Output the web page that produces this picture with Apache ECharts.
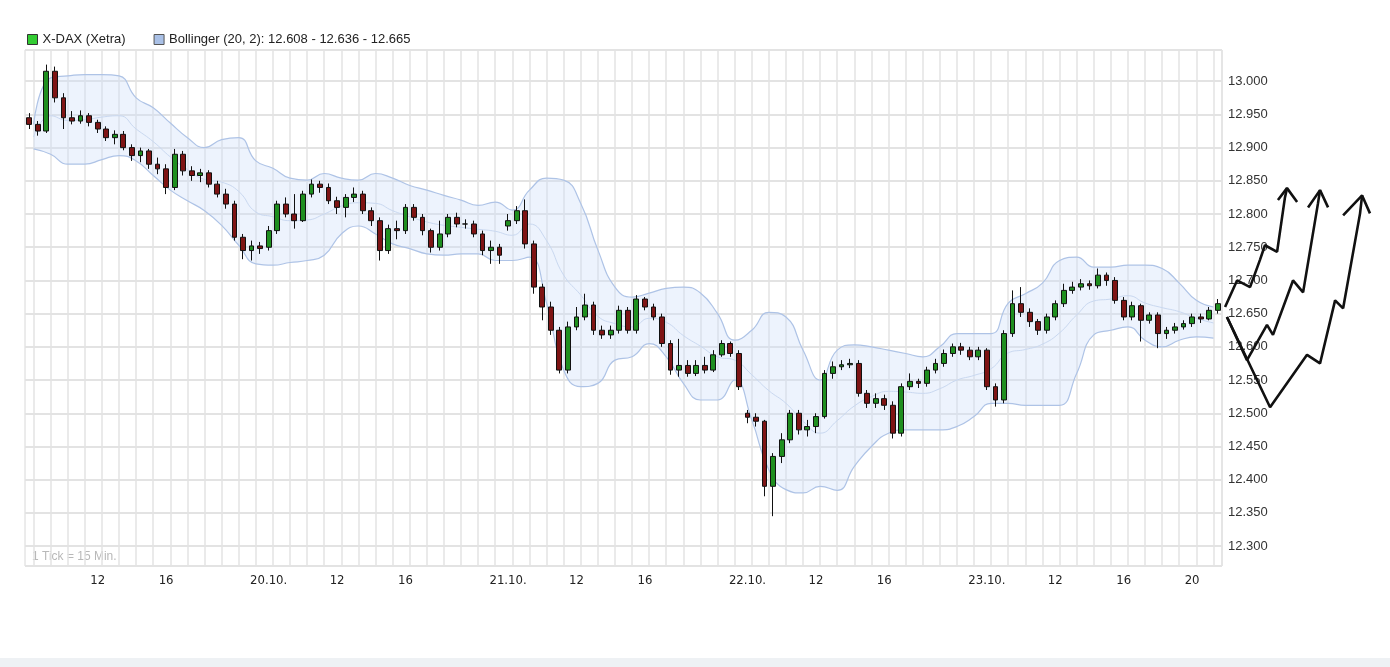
<!DOCTYPE html>
<html>
<head>
<meta charset="utf-8">
<script src="https://cdn.jsdelivr.net/npm/echarts@6/dist/echarts.min.js"></script>
<style>
html,body{margin:0;padding:0;background:#fff;}
#chart{width:1390px;height:667px;}
</style>
</head>
<body>
<div id="chart"></div>
<script>
// 30-min candles [open, close, low, high], one array per trading day (08:00 - 22:00)
let day1 = [
 [12.945,12.935,12.928,12.952],[12.935,12.925,12.918,12.940],[12.925,13.015,12.922,13.025],[13.015,12.975,12.968,13.022],
 [12.975,12.945,12.928,12.982],[12.945,12.940,12.935,12.955],[12.940,12.948,12.936,12.956],[12.948,12.938,12.932,12.952],
 [12.938,12.928,12.922,12.942],[12.928,12.915,12.910,12.932],[12.915,12.920,12.905,12.926],[12.920,12.900,12.896,12.925],
 [12.900,12.888,12.880,12.905],[12.888,12.895,12.878,12.900],[12.895,12.875,12.868,12.898],[12.875,12.868,12.860,12.885],
 [12.868,12.840,12.830,12.875],[12.840,12.890,12.836,12.898],[12.890,12.865,12.858,12.895],[12.865,12.858,12.850,12.872],
 [12.858,12.862,12.848,12.868],[12.862,12.845,12.840,12.866],[12.845,12.830,12.825,12.850],[12.830,12.815,12.808,12.838],
 [12.815,12.765,12.760,12.820],[12.765,12.745,12.732,12.770],[12.745,12.752,12.730,12.760],[12.752,12.748,12.740,12.758]
];
let day2 = [
 [12.750,12.775,12.745,12.782],[12.775,12.815,12.770,12.820],[12.815,12.800,12.795,12.825],[12.800,12.790,12.778,12.830],
 [12.790,12.830,12.788,12.835],[12.830,12.845,12.825,12.852],[12.845,12.840,12.832,12.850],[12.840,12.820,12.815,12.846],
 [12.820,12.810,12.800,12.826],[12.810,12.825,12.795,12.830],[12.825,12.830,12.818,12.840],[12.830,12.805,12.800,12.835],
 [12.805,12.790,12.782,12.810],[12.790,12.745,12.730,12.795],[12.745,12.778,12.740,12.784],[12.778,12.775,12.762,12.790],
 [12.775,12.810,12.770,12.815],[12.810,12.795,12.790,12.815],[12.795,12.775,12.768,12.800],[12.775,12.750,12.742,12.778],
 [12.750,12.770,12.745,12.790],[12.770,12.795,12.765,12.800],[12.795,12.785,12.780,12.802],[12.785,12.785,12.778,12.792],
 [12.785,12.770,12.765,12.790],[12.770,12.745,12.738,12.775],[12.745,12.750,12.725,12.760],[12.750,12.738,12.725,12.755]
];
let day3 = [
 [12.782,12.790,12.775,12.800],[12.790,12.805,12.785,12.812],[12.805,12.755,12.748,12.822],[12.755,12.690,12.680,12.760],
 [12.690,12.660,12.640,12.695],[12.660,12.625,12.618,12.668],[12.625,12.565,12.560,12.630],[12.565,12.630,12.560,12.638],
 [12.630,12.645,12.625,12.660],[12.645,12.663,12.640,12.680],[12.663,12.625,12.618,12.668],[12.625,12.618,12.612,12.632],
 [12.618,12.625,12.612,12.632],[12.625,12.655,12.620,12.662],[12.655,12.625,12.620,12.660],[12.625,12.672,12.620,12.678],
 [12.672,12.660,12.655,12.675],[12.660,12.645,12.640,12.665],[12.645,12.605,12.600,12.650],[12.605,12.565,12.558,12.610],
 [12.565,12.572,12.555,12.612],[12.572,12.560,12.555,12.580],[12.560,12.572,12.556,12.580],[12.572,12.565,12.560,12.585],
 [12.565,12.588,12.562,12.595],[12.588,12.605,12.585,12.610],[12.605,12.590,12.585,12.608],[12.590,12.540,12.535,12.595]
];
let day4 = [
 [12.500,12.494,12.485,12.505],[12.494,12.488,12.480,12.500],[12.488,12.390,12.375,12.490],[12.390,12.435,12.345,12.440],
 [12.435,12.460,12.425,12.470],[12.460,12.500,12.455,12.505],[12.500,12.475,12.468,12.505],[12.475,12.480,12.465,12.490],
 [12.480,12.495,12.470,12.500],[12.495,12.560,12.492,12.565],[12.560,12.570,12.552,12.578],[12.570,12.573,12.565,12.580],
 [12.573,12.575,12.568,12.582],[12.575,12.530,12.525,12.580],[12.530,12.515,12.508,12.535],[12.515,12.522,12.508,12.530],
 [12.522,12.512,12.505,12.528],[12.512,12.470,12.462,12.518],[12.470,12.540,12.465,12.545],[12.540,12.548,12.535,12.560],
 [12.548,12.545,12.538,12.552],[12.545,12.565,12.540,12.570],[12.565,12.575,12.560,12.582],[12.575,12.590,12.570,12.596],
 [12.590,12.600,12.585,12.605],[12.600,12.595,12.588,12.606],[12.595,12.585,12.580,12.600],[12.585,12.595,12.580,12.600]
];
let day5 = [
 [12.595,12.540,12.535,12.598],[12.540,12.520,12.510,12.545],[12.520,12.620,12.515,12.625],[12.620,12.665,12.615,12.685],
 [12.665,12.652,12.645,12.690],[12.652,12.638,12.630,12.658],[12.638,12.625,12.618,12.642],[12.625,12.645,12.620,12.650],
 [12.645,12.665,12.640,12.670],[12.665,12.685,12.660,12.695],[12.685,12.690,12.680,12.698],[12.690,12.695,12.685,12.702],
 [12.695,12.692,12.686,12.700],[12.692,12.708,12.688,12.718],[12.708,12.700,12.692,12.712],[12.700,12.670,12.665,12.705],
 [12.670,12.645,12.640,12.675],[12.645,12.662,12.640,12.668],[12.662,12.640,12.608,12.665],[12.640,12.648,12.635,12.652],
 [12.648,12.620,12.598,12.652],[12.620,12.625,12.612,12.630],[12.625,12.630,12.620,12.636],[12.630,12.635,12.626,12.640],
 [12.635,12.645,12.630,12.650],[12.645,12.642,12.636,12.650],[12.642,12.655,12.640,12.660],[12.655,12.665,12.650,12.672]
];
let dayNames = ['19.10.','20.10.','21.10.','22.10.','23.10.'];

// Bollinger band (20, 2), read hourly
let bandUpper = [
 12.935,13.005,13.008,13.010,13.010,13.008,12.975,12.960,12.937,12.915,12.900,12.912,12.915,12.880,
 12.869,12.854,12.851,12.861,12.854,12.851,12.861,12.854,12.843,12.836,12.828,12.821,12.813,12.818,
 12.806,12.836,12.854,12.851,12.816,12.746,12.690,12.675,12.681,12.688,12.690,12.681,12.650,12.610,
 12.625,12.652,12.645,12.595,12.550,12.595,12.603,12.600,12.595,12.590,12.585,12.600,12.620,12.620,
 12.620,12.666,12.680,12.696,12.730,12.735,12.720,12.720,12.723,12.723,12.718,12.696,12.670,12.660
];
let bandLower = [
 12.898,12.890,12.875,12.875,12.882,12.888,12.880,12.858,12.836,12.820,12.805,12.783,12.753,12.725,
 12.723,12.727,12.730,12.738,12.770,12.782,12.770,12.755,12.748,12.740,12.738,12.740,12.740,12.730,
 12.730,12.735,12.666,12.565,12.540,12.545,12.580,12.585,12.605,12.585,12.545,12.520,12.520,12.550,
 12.490,12.415,12.385,12.380,12.390,12.384,12.420,12.450,12.470,12.475,12.475,12.475,12.480,12.495,
 12.515,12.515,12.512,12.512,12.512,12.560,12.618,12.625,12.630,12.610,12.600,12.610,12.615,12.613
];

// hand drawn arrows on the right: [hours after last candle, price]
let arrow1 = [[0.18,12.660],[0.88,12.700],[1.64,12.690],[2.22,12.731],[2.51,12.753],[3.22,12.743],[3.68,12.825],[3.80,12.839]];
let head1 = [[3.27,12.821],[3.80,12.839],[4.39,12.818]];
let arrow2 = [[0.29,12.645],[1.46,12.580],[2.63,12.633],[2.98,12.618],[4.15,12.700],[4.74,12.682],[5.61,12.816],[5.73,12.836]];
let head2 = [[5.03,12.810],[5.73,12.836],[6.20,12.810]];
let arrow3 = [[0.29,12.645],[2.81,12.509],[4.97,12.588],[5.73,12.575],[6.61,12.670],[7.08,12.658],[8.07,12.801],[8.19,12.828]];
let head3 = [[7.08,12.798],[8.19,12.828],[8.65,12.801]];

let days = [day1,day2,day3,day4,day5];
let candles = [];
let cats = [];
for(let d=0;d<days.length;d++){
    for(let k=0;k<days[d].length;k++){
        candles.push(days[d][k]);
        let h = 8 + Math.floor(k/2);
        cats.push(dayNames[d] + ' ' + h + ':' + (k%2 ? '30' : '00'));
    }
}
let hourCats = [];
for(let d=0;d<days.length;d++){
    for(let h=0;h<14;h++){
        hourCats.push(dayNames[d] + ' ' + (8+h));
    }
}
let bandWidth = [];
let bandMid = [];
for(let i=0;i<bandUpper.length;i++){
    bandWidth.push(+(bandUpper[i]-bandLower[i]).toFixed(3));
    bandMid.push(+((bandUpper[i]+bandLower[i])/2).toFixed(3));
}

let bandName = 'Bollinger (20, 2): 12.608 - 12.636 - 12.665';
let yMin = 12.27, yMax = 13.047;

function xLabel(idx){
    let k = idx % 28, d = Math.floor(idx/28);
    if(k==0 && d>0) return dayNames[d];
    if(k==8) return '12';
    if(k==16) return '16';
    if(k==24 && d==4) return '20';
    return '';
}

function arrowSeries(data){
    return {
        type:'line', xAxisIndex:2, yAxisIndex:2, data:data,
        symbol:'none', silent:true, z:10,
        lineStyle:{color:'#111', width:2.6}
    };
}

let chart = echarts.init(document.getElementById('chart'));
chart.setOption({
    animation:false,
    backgroundColor:'#fff',
    legend:{
        left:22, top:28,
        itemWidth:10, itemHeight:10, itemGap:28,
        icon:'rect',
        textStyle:{color:'#222', fontSize:13, fontFamily:'Liberation Sans'},
        data:[
            {name:'X-DAX (Xetra)', itemStyle:{color:'#33cc33', borderColor:'#333', borderWidth:1}},
            {name:bandName, itemStyle:{color:'#a9c0e6', borderColor:'#555', borderWidth:1}}
        ]
    },
    grid:[
        {left:25, right:168, top:50, bottom:101, show:true, borderColor:'#d8d8d8', borderWidth:1},
        {left:1222, right:0, top:50, bottom:101}
    ],
    xAxis:[
        {
            type:'category', data:cats, gridIndex:0, boundaryGap:true,
            axisLine:{show:false}, axisTick:{show:false},
            axisLabel:{interval:0, formatter:function(v,idx){return xLabel(idx);},
                color:'#222', fontSize:13, fontFamily:'DejaVu Sans Condensed, Liberation Sans', margin:8},
            splitLine:{show:true, interval:function(idx){return idx%2==1;},
                lineStyle:{color:'#e3e3e3', width:1.5}}
        },
        {type:'category', data:hourCats, gridIndex:0, show:false, boundaryGap:true},
        {type:'value', gridIndex:1, min:0, max:9.82, show:false}
    ],
    yAxis:[
        {
            type:'value', gridIndex:0, position:'right', min:yMin, max:yMax,
            splitNumber:15, minInterval:0.05, maxInterval:0.05, scale:true,
            axisLine:{show:false}, axisTick:{show:false},
            axisLabel:{showMinLabel:false, showMaxLabel:false, margin:6,
                formatter:function(v){return v.toFixed(3);},
                color:'#333', fontSize:13, fontFamily:'Liberation Sans'},
            splitLine:{lineStyle:{color:'#e3e3e3', width:2}}
        },
        {type:'value', gridIndex:0, min:yMin, max:yMax, show:false, scale:true},
        {type:'value', gridIndex:1, min:yMin, max:yMax, show:false, scale:true}
    ],
    graphic:[
        {type:'text', left:32, top:551, style:{text:'1 Tick = 15 Min.', fill:'#b8b8b8', fontSize:12, fontFamily:'Liberation Sans'}},
        {type:'rect', left:0, top:658, shape:{width:1390, height:9}, style:{fill:'#eef1f4'}}
    ],
    series:[
        {
            name:'bandBase', type:'line', xAxisIndex:1, yAxisIndex:1, data:bandLower,
            stack:'band', symbol:'none', smooth:true, silent:true,
            lineStyle:{color:'#aec3e6', width:1.2}
        },
        {
            name:bandName, type:'line', xAxisIndex:1, yAxisIndex:1, data:bandWidth,
            stack:'band', symbol:'none', smooth:true, silent:true,
            lineStyle:{color:'#aec3e6', width:1.2},
            areaStyle:{color:'rgba(205,220,248,0.5)'},
            itemStyle:{color:'#a9c0e6'}
        },
        {
            name:'bandMid', type:'line', xAxisIndex:1, yAxisIndex:1, data:bandMid,
            symbol:'none', smooth:true, silent:true,
            lineStyle:{color:'#c9d8f0', width:1}
        },
        {
            name:'X-DAX (Xetra)', type:'candlestick', xAxisIndex:0, yAxisIndex:0, data:candles,
            barWidth:'62%', z:5,
            itemStyle:{color:'#1f8f1f', color0:'#7e1414', borderColor:'#111', borderColor0:'#111', borderWidth:1, opacity:1}
        },
        arrowSeries(arrow1), arrowSeries(head1),
        arrowSeries(arrow2), arrowSeries(head2),
        arrowSeries(arrow3), arrowSeries(head3)
    ]
});
</script>
</body>
</html>
